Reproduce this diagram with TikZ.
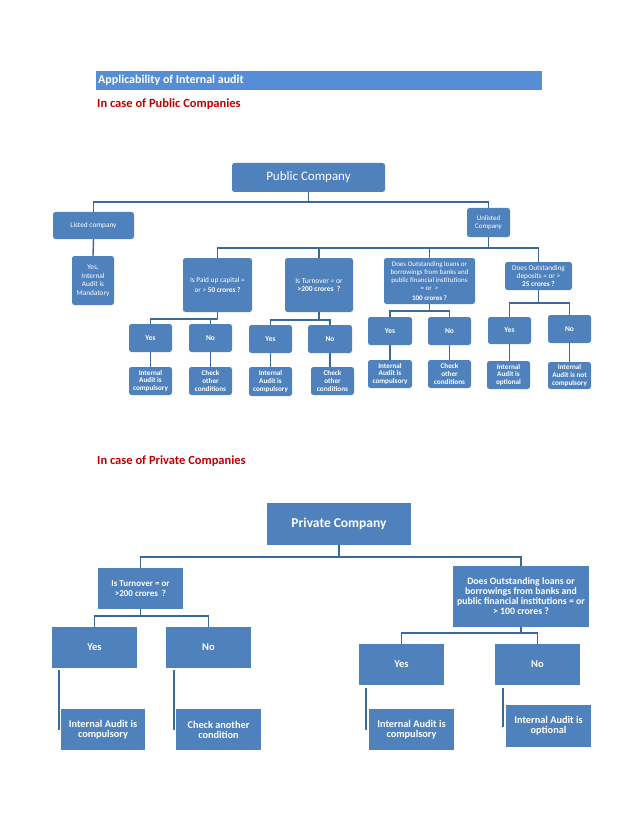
\documentclass[tikz,border=0pt]{standalone}
\usepackage{fontspec}
\setmainfont{Carlito}
\usetikzlibrary{calc}
\definecolor{boxblue}{HTML}{4F81BD}
\definecolor{linkblue}{HTML}{3B6A9A}
\definecolor{barblue}{HTML}{558ED5}
\definecolor{headred}{HTML}{C00000}
\begin{document}
\begin{tikzpicture}[x=1pt,y=-1pt,
  box/.style={fill=boxblue, text=white, align=center, inner sep=1pt, rounded corners=2.5pt},
  pbox/.style={fill=boxblue, text=white, align=center, inner sep=1pt},
  wh/.style 2 args={minimum width=#1pt, minimum height=#2pt},
  sz/.style 2 args={font=\fontsize{#1}{#2}\selectfont},
  szb/.style 2 args={font=\fontsize{#1}{#2}\selectfont\bfseries},
  link/.style={draw=linkblue, line width=1.4pt},
  heading/.style={text=headred, anchor=west, inner sep=0pt, font=\fontsize{12.5}{14}\selectfont\bfseries}
]
\useasboundingbox (0,0) rectangle (638,826);

% title and headings
\node[fill=barblue, text=white, anchor=west, wh={446}{19}, inner sep=2pt, text width=442pt, align=flush left,
      font=\fontsize{12}{13}\selectfont\bfseries] (title) at (96,80.5) {Applicability of Internal audit};
\node[heading] (pubhead) at (97,104) {In case of Public Companies};
\node[heading] (privhead) at (97,461) {In case of Private Companies};

% ---------- Public companies ----------
\node[box, wh={153}{29}, sz={13}{14}] (pc) at (308.5,177.5) {Public Company};
\node[box, wh={81}{27}, sz={7.3}{8}] (listed) at (93.5,225.5) {Listed company};
\node[box, wh={43}{29}, sz={7}{8}] (unlisted) at (488.5,222.5) {Unlisted\\Company};
\node[box, wh={42}{49}, sz={7.3}{8.5}] (lyes) at (93,280.5) {Yes,\\Internal\\Audit is\\Mandatory};
\node[box, wh={69}{54}, sz={7.3}{10}] (paid) at (217.5,285) {Is Paid up capital =\\or > \textbf{50 crores ?}};
\node[box, wh={68}{54}, sz={7.5}{8.5}] (turn) at (319,285) {Is Turnover = or\\\textbf{>200 crores\ \ ?}};
\node[box, wh={91}{46}, sz={7}{7.8}] (loans) at (429.5,281) {Does Outstanding loans or\\borrowings from banks and\\public financial institutions\\= or\ \ >\\[2pt]\textbf{100 crores ?}};
\node[box, wh={67}{28}, sz={7.3}{8}] (dep) at (538.5,276) {Does Outstanding\\deposits = or >\\\textbf{25 crores ?}};

\node[box, wh={43}{28}, szb={7.5}{8}] (y1) at (150.5,338) {Yes};
\node[box, wh={43}{28}, szb={7.5}{8}] (n1) at (210.5,338) {No};
\node[box, wh={43}{28}, szb={7.5}{8}] (y2) at (270.5,339) {Yes};
\node[box, wh={44}{28}, szb={7.5}{8}] (n2) at (330,339) {No};
\node[box, wh={44}{28}, szb={7.5}{8}] (y3) at (390,331) {Yes};
\node[box, wh={43}{28}, szb={7.5}{8}] (n3) at (449.5,331) {No};
\node[box, wh={43}{27}, szb={7.5}{8}] (y4) at (509.5,330.5) {Yes};
\node[box, wh={43}{28}, szb={7.5}{8}] (n4) at (569.5,329) {No};

\node[box, wh={43}{28}, szb={7.2}{7.9}] (a1) at (150.5,381) {Internal\\Audit is\\compulsory};
\node[box, wh={43}{28}, szb={7.2}{7.9}] (c1) at (210.5,381) {Check\\other\\conditions};
\node[box, wh={43}{29}, szb={7.2}{7.9}] (a2) at (270.5,381.5) {Internal\\Audit is\\compulsory};
\node[box, wh={43}{28}, szb={7.2}{7.9}] (c2) at (332.5,381) {Check\\other\\conditions};
\node[box, wh={44}{28}, szb={7.2}{7.9}] (a3) at (390,374) {Internal\\Audit is\\compulsory};
\node[box, wh={43}{28}, szb={7.2}{7.9}] (c3) at (449.5,374) {Check\\other\\conditions};
\node[box, wh={43}{28}, szb={7.2}{7.9}] (a4) at (508.5,375) {Internal\\Audit is\\optional};
\node[box, wh={43}{27}, szb={7.2}{7.9}] (a5) at (569.5,375.5) {Internal\\Audit is not\\compulsory};

\coordinate (j0) at (308.5,202);
\coordinate (j1) at (488.5,248);
\coordinate (jp) at (217.5,319);
\coordinate (jt) at (319,320);
\coordinate (jl) at (429.5,311);
\coordinate (jd) at (538.5,303);

\draw[link] (pc.south) -- (j0);
\draw[link] (listed.north) |- (j0) -| (unlisted.north);
\draw[link] (listed.south) -- (lyes.north);
\draw[link] (unlisted.south) -- (j1);
\draw[link] (paid.north) |- (j1) -| (dep.north);
\draw[link] (turn.north) -- (turn.north |- j1);
\draw[link] (loans.north) -- (loans.north |- j1);

\draw[link] (paid.south) -- (jp);
\draw[link] (y1.north) |- (jp) -| (n1.north);
\draw[link] (turn.south) -- (jt);
\draw[link] (y2.north) |- (jt) -| (n2.north);
\draw[link] (loans.south) -- (jl);
\draw[link] (y3.north) |- (jl) -| (n3.north);
\draw[link] (dep.south) -- (jd);
\draw[link] (y4.north) |- (jd) -| (n4.north);

\draw[link] (y1.south) -- (a1.north);
\draw[link] (n1.south) -- (c1.north);
\draw[link] (y2.south) -- (a2.north);
\draw[link] (n2.south) -- (n2.south |- c2.north);
\draw[link] (y3.south) -- (a3.north);
\draw[link] (n3.south) -- (c3.north);
\draw[link] (y4.south) -- (y4.south |- a4.north);
\draw[link] (n4.south) -- (a5.north);

% ---------- Private companies ----------
\node[pbox, wh={144}{42}, szb={13.5}{15}] (prc) at (339,524) {Private Company};
\node[pbox, wh={85}{41}, szb={9}{10}] (pturn) at (140.5,588.5) {Is Turnover = or\\>200 crores\ \ ?};
\node[pbox, wh={136}{61}, szb={9.8}{10}] (ploans) at (521,596.5) {Does Outstanding loans or\\borrowings from banks and\\public financial institutions = or\\> 100 crores ?};

\node[pbox, wh={85}{41}, szb={10.5}{11}] (pyes) at (94.5,647.5) {Yes};
\node[pbox, wh={85}{41}, szb={10.5}{11}] (pno) at (208.5,647.5) {No};
\node[pbox, wh={84}{41}, szb={10.3}{10}] (pia1) at (103,729.5) {Internal Audit is\\compulsory};
\node[pbox, wh={85}{41}, szb={10.3}{10}] (pchk) at (218.5,729.5) {Check another\\condition};

\node[pbox, wh={85}{41}, szb={10.5}{11}] (pyes2) at (401.5,664.5) {Yes};
\node[pbox, wh={85}{41}, szb={10.5}{11}] (pno2) at (537.5,664.5) {No};
\node[pbox, wh={85}{41}, szb={10.3}{10}] (pia2) at (411.5,729.5) {Internal Audit is\\compulsory};
\node[pbox, wh={85}{42}, szb={10.3}{10}] (pia3) at (548.5,726) {Internal Audit is\\optional};

\coordinate (j2) at (339,557);
\coordinate (j3) at (140.5,616);
\coordinate (j4) at (521,633);

\draw[link] (prc.south) -- (j2);
\draw[link] (pturn.north) |- (j2) -| (ploans.north);
\draw[link] (pturn.south) -- (j3);
\draw[link] (pyes.north) |- (j3) -| (pno.north);
\draw[link] (ploans.south) -- (j4);
\draw[link] (pyes2.north) |- (j4) -| (pno2.north);

\draw[link] ($(pyes.south west)+(7,2)$) -- ($(pia1.south west)+(-2,-20)$);
\draw[link] ($(pno.south west)+(8,2)$) -- ($(pchk.south west)+(-2,-20)$);
\draw[link] ($(pyes2.south west)+(7,3)$) -- ($(pia2.south west)+(-3,-20)$);
\draw[link] ($(pno2.south west)+(8,3)$) -- ($(pia3.south west)+(-3,-20)$);
\end{tikzpicture}
\end{document}
